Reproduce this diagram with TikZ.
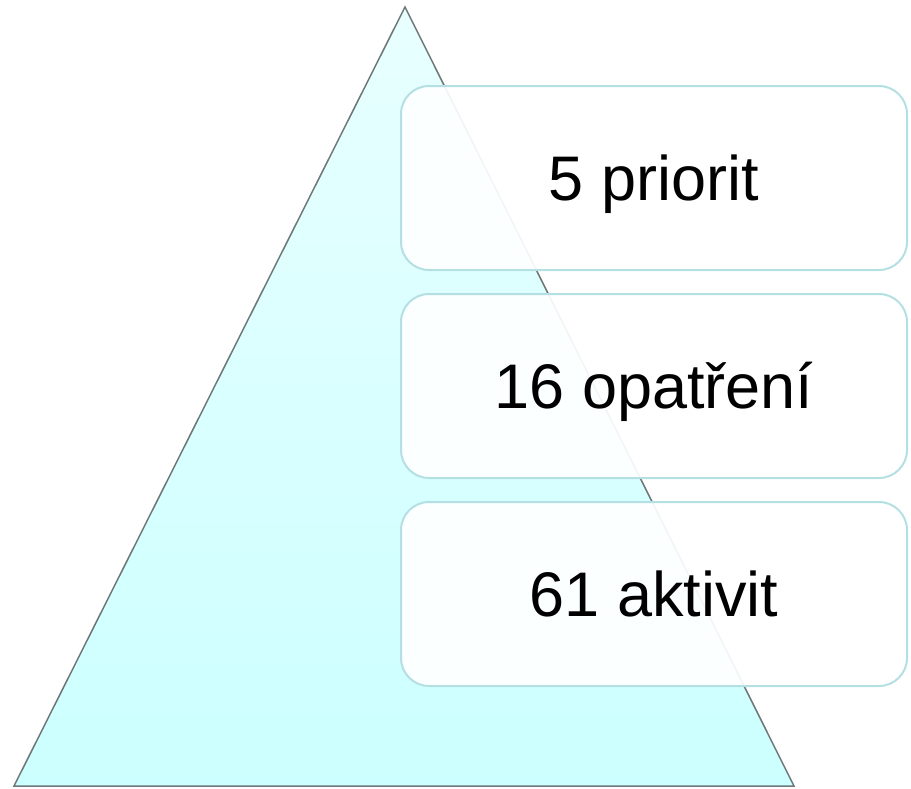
\documentclass[tikz,border=0pt]{standalone}
\usepackage{fontspec}
\setmainfont{Liberation Sans}
\usetikzlibrary{shadings}
\definecolor{tritop}{HTML}{E8FFFF}
\definecolor{tribot}{HTML}{CCFFFF}
\definecolor{triedge}{HTML}{6E7878}
\definecolor{boxedge}{HTML}{B4E0E4}
\tikzset{
  levelbox/.style={draw=boxedge, line width=2pt, fill=white, fill opacity=0.92, rounded corners=28pt},
  leveltext/.style={anchor=base, font=\fontsize{63}{70}\selectfont, text=black}
}
\begin{document}
\begin{tikzpicture}[x=1pt,y=-1pt]
\useasboundingbox (0,0) rectangle (911,788);
% triangle
\coordinate (apex) at (405,7);
\coordinate (bl) at (14,786);
\coordinate (br) at (794,786);
\shade[top color=tritop, bottom color=tribot] (apex) -- (br) -- (bl) -- cycle;
\draw[triedge, line width=1.5pt, line join=miter] (apex) -- (br) -- (bl) -- cycle;
% boxes
\draw[levelbox] (401,86) rectangle (907,270);
\draw[levelbox] (401,294) rectangle (907,478);
\draw[levelbox] (401,502) rectangle (907,686);
% texts
\node[leveltext] (t1) at (654,200) {5 priorit};
\node[leveltext] (t2) at (654,408) {16 opatření};
\node[leveltext] (t3) at (654,616) {61 aktivit};
\end{tikzpicture}
\end{document}
